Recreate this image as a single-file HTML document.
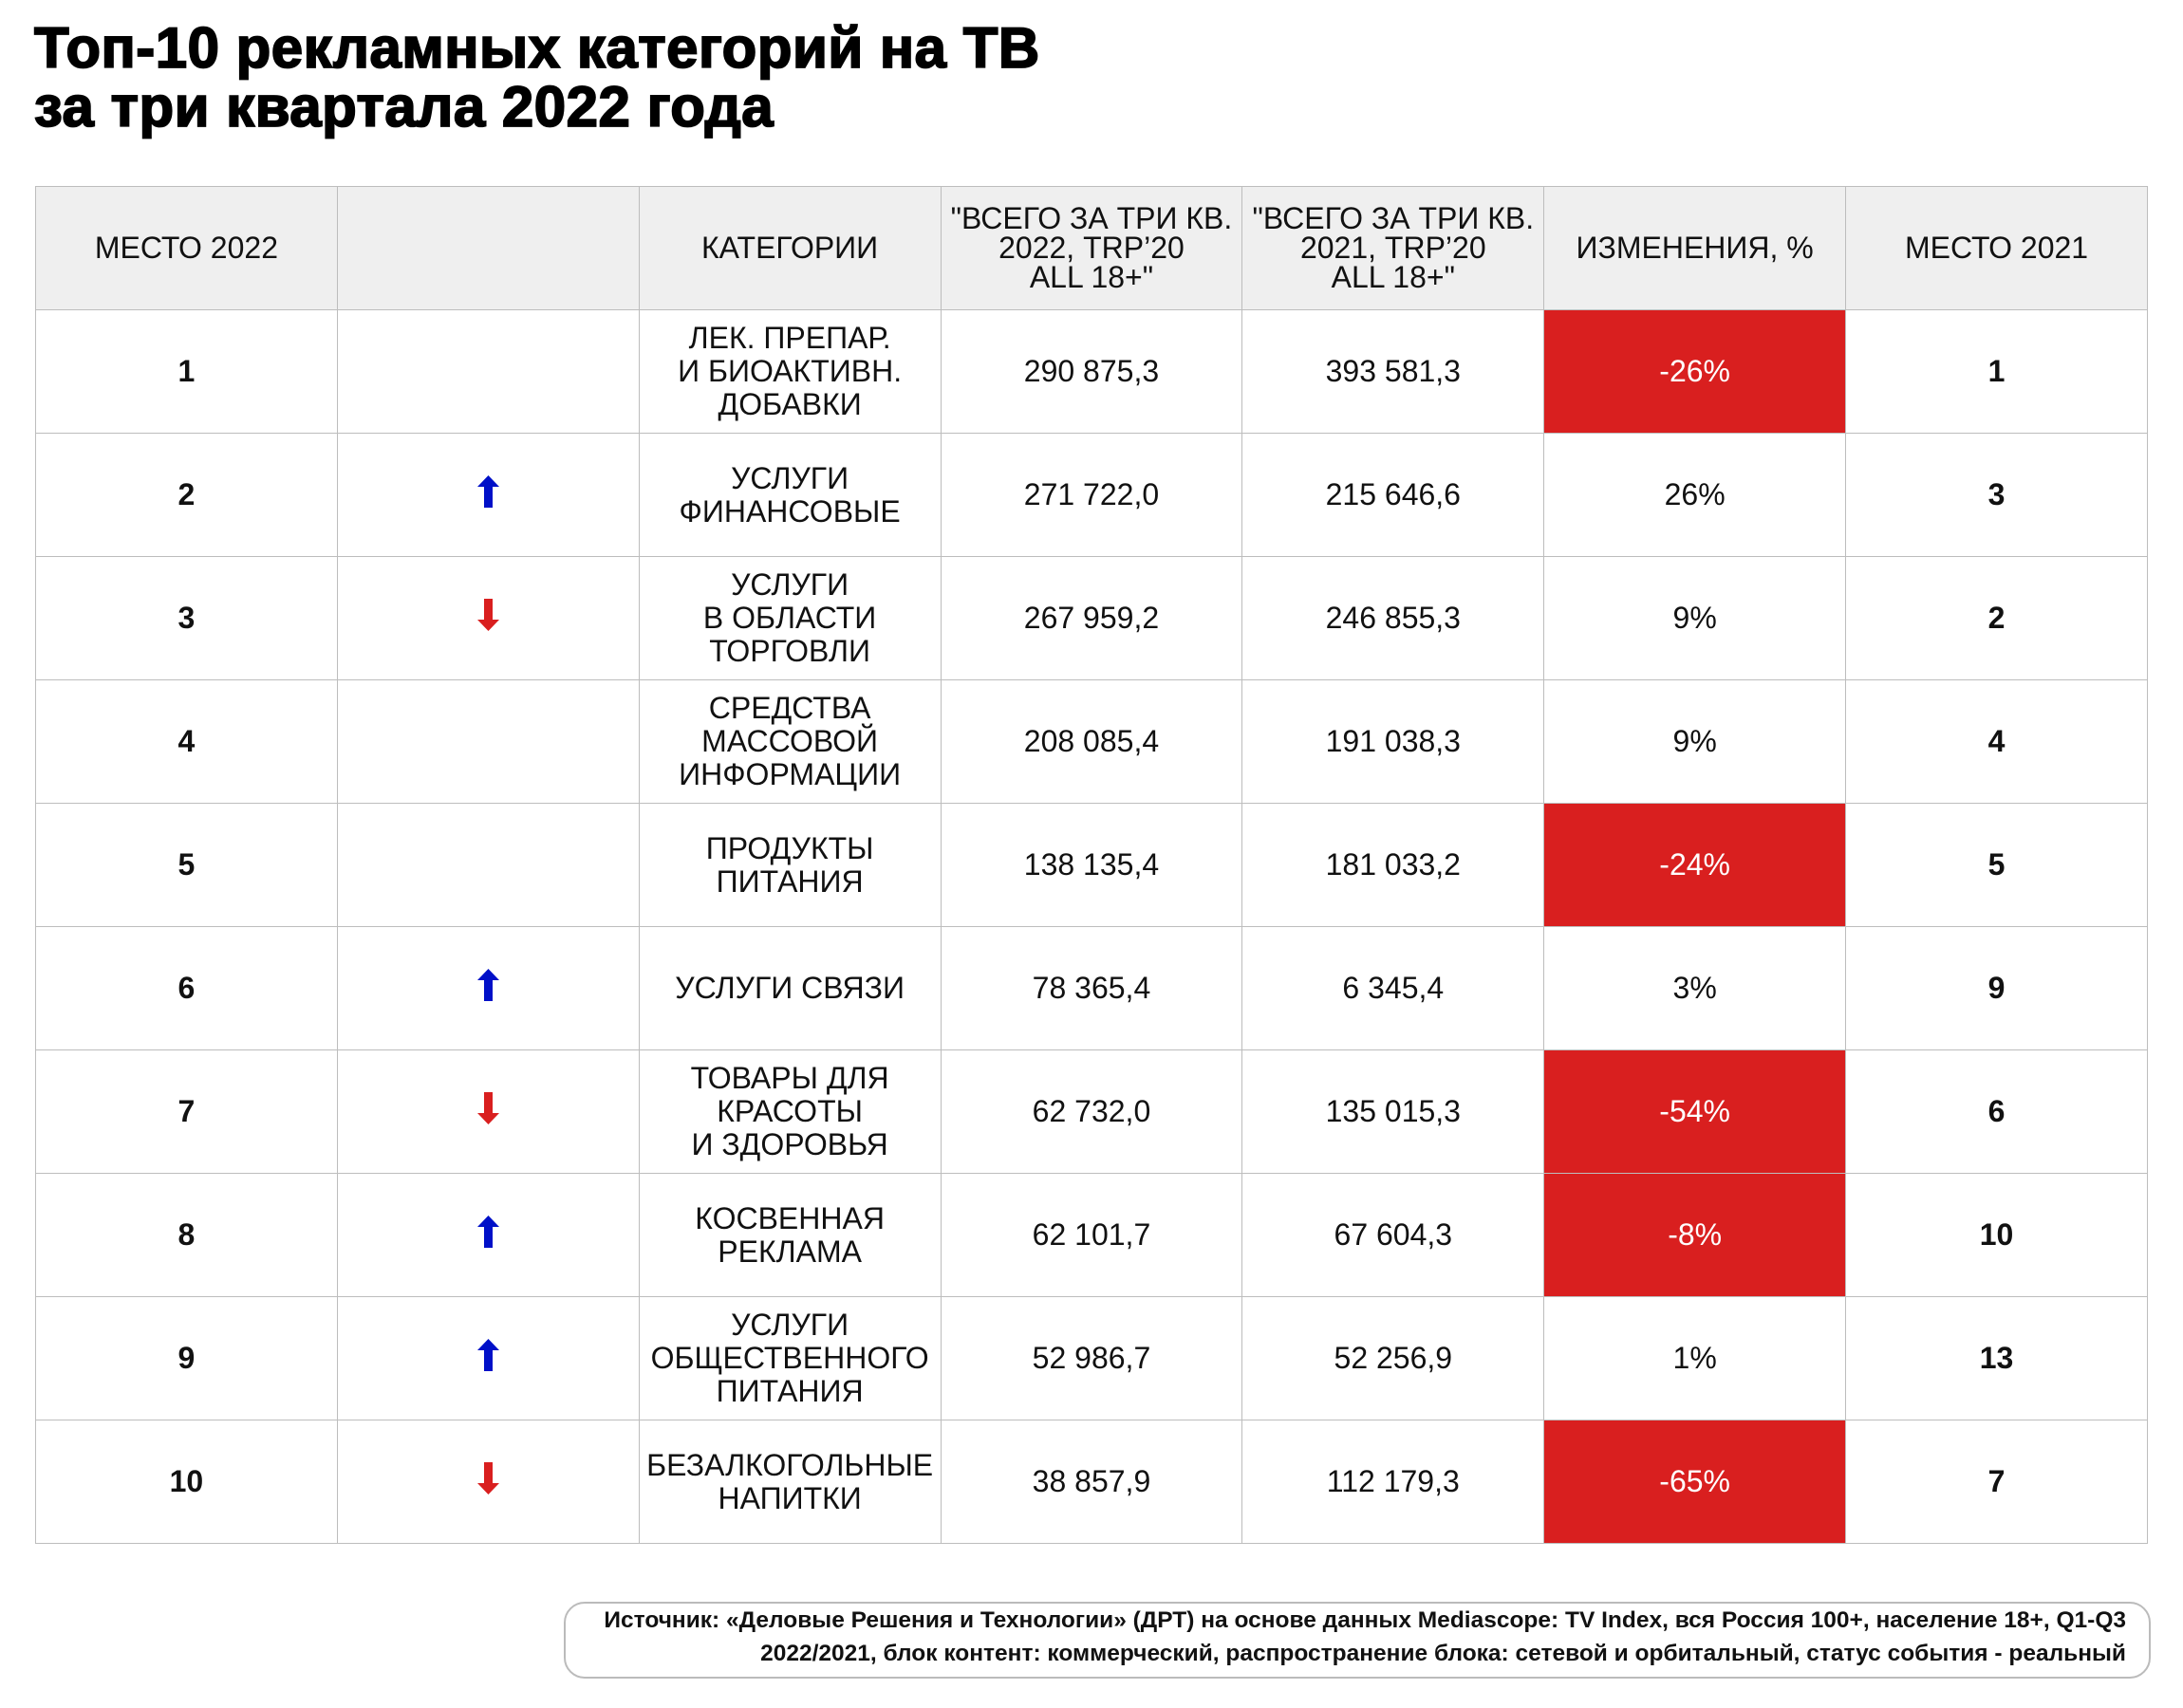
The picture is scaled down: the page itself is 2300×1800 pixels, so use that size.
<!DOCTYPE html>
<html><head><meta charset="utf-8"><style>
body{margin:0;width:2300px;height:1800px;background:#fff;overflow:hidden;font-family:"Liberation Sans","DejaVu Sans",sans-serif;position:relative}
.t{position:absolute;left:36px;top:20px;font-size:60px;font-weight:900;line-height:62px;color:#000;-webkit-text-stroke:1.8px #000;letter-spacing:0.5px}
table{position:absolute;left:37px;top:196px;border-collapse:collapse;table-layout:fixed;width:2226px}
td{border:1.5px solid #bdbdbd;height:129px;text-align:center;vertical-align:middle;font-size:32px;line-height:35px;color:#111;padding:0}
tr.h td{background:#efefef;font-size:32px;line-height:31px}
td.b{font-weight:bold;font-size:32px}
td.r{background:#d91f1f;color:#fff}
.up,.dn{display:inline-block;width:23px;height:34px}
.box{position:absolute;left:594px;top:1688px;width:1672px;height:81px;border:2px solid #bbb;border-radius:22px;box-sizing:border-box}
.src{position:absolute;right:60px;top:1690px;text-align:right;font-size:24.5px;font-weight:bold;line-height:35px;color:#111;white-space:nowrap}
</style></head><body>
<div class="t">Топ-10 рекламных категорий на ТВ<br>за три квартала 2022 года</div>
<table>
<tr class="h"><td>МЕСТО 2022</td><td></td><td>КАТЕГОРИИ</td><td>"ВСЕГО ЗА ТРИ КВ.<br>2022, TRP’20<br>ALL 18+"</td><td>"ВСЕГО ЗА ТРИ КВ.<br>2021, TRP’20<br>ALL 18+"</td><td>ИЗМЕНЕНИЯ, %</td><td>МЕСТО 2021</td></tr>
<tr><td class="b">1</td><td></td><td>ЛЕК. ПРЕПАР.<br>И БИОАКТИВН.<br>ДОБАВКИ</td><td>290 875,3</td><td>393 581,3</td><td class="r">-26%</td><td class="b">1</td></tr>
<tr><td class="b">2</td><td><svg class="up" viewBox="0 0 23 34"><path d="M11.5 0L23 12H16V34H7V12H0Z" fill="#0010c8"/></svg></td><td>УСЛУГИ<br>ФИНАНСОВЫЕ</td><td>271 722,0</td><td>215 646,6</td><td>26%</td><td class="b">3</td></tr>
<tr><td class="b">3</td><td><svg class="dn" viewBox="0 0 23 34"><path d="M11.5 34L23 22H16V0H7V22H0Z" fill="#d91f1f"/></svg></td><td>УСЛУГИ<br>В ОБЛАСТИ<br>ТОРГОВЛИ</td><td>267 959,2</td><td>246 855,3</td><td>9%</td><td class="b">2</td></tr>
<tr><td class="b">4</td><td></td><td>СРЕДСТВА<br>МАССОВОЙ<br>ИНФОРМАЦИИ</td><td>208 085,4</td><td>191 038,3</td><td>9%</td><td class="b">4</td></tr>
<tr><td class="b">5</td><td></td><td>ПРОДУКТЫ<br>ПИТАНИЯ</td><td>138 135,4</td><td>181 033,2</td><td class="r">-24%</td><td class="b">5</td></tr>
<tr><td class="b">6</td><td><svg class="up" viewBox="0 0 23 34"><path d="M11.5 0L23 12H16V34H7V12H0Z" fill="#0010c8"/></svg></td><td>УСЛУГИ СВЯЗИ</td><td>78 365,4</td><td>6 345,4</td><td>3%</td><td class="b">9</td></tr>
<tr><td class="b">7</td><td><svg class="dn" viewBox="0 0 23 34"><path d="M11.5 34L23 22H16V0H7V22H0Z" fill="#d91f1f"/></svg></td><td>ТОВАРЫ ДЛЯ<br>КРАСОТЫ<br>И ЗДОРОВЬЯ</td><td>62 732,0</td><td>135 015,3</td><td class="r">-54%</td><td class="b">6</td></tr>
<tr><td class="b">8</td><td><svg class="up" viewBox="0 0 23 34"><path d="M11.5 0L23 12H16V34H7V12H0Z" fill="#0010c8"/></svg></td><td>КОСВЕННАЯ<br>РЕКЛАМА</td><td>62 101,7</td><td>67 604,3</td><td class="r">-8%</td><td class="b">10</td></tr>
<tr><td class="b">9</td><td><svg class="up" viewBox="0 0 23 34"><path d="M11.5 0L23 12H16V34H7V12H0Z" fill="#0010c8"/></svg></td><td>УСЛУГИ<br>ОБЩЕСТВЕННОГО<br>ПИТАНИЯ</td><td>52 986,7</td><td>52 256,9</td><td>1%</td><td class="b">13</td></tr>
<tr><td class="b">10</td><td><svg class="dn" viewBox="0 0 23 34"><path d="M11.5 34L23 22H16V0H7V22H0Z" fill="#d91f1f"/></svg></td><td>БЕЗАЛКОГОЛЬНЫЕ<br>НАПИТКИ</td><td>38 857,9</td><td>112 179,3</td><td class="r">-65%</td><td class="b">7</td></tr>
</table>
<div class="box"></div>
<div class="src">Источник: «Деловые Решения и Технологии» (ДРТ) на основе данных Mediascope: TV Index, вся Россия 100+, население 18+, Q1-Q3<br>2022/2021, блок контент: коммерческий, распространение блока: сетевой и орбитальный, статус события - реальный</div>
</body></html>
